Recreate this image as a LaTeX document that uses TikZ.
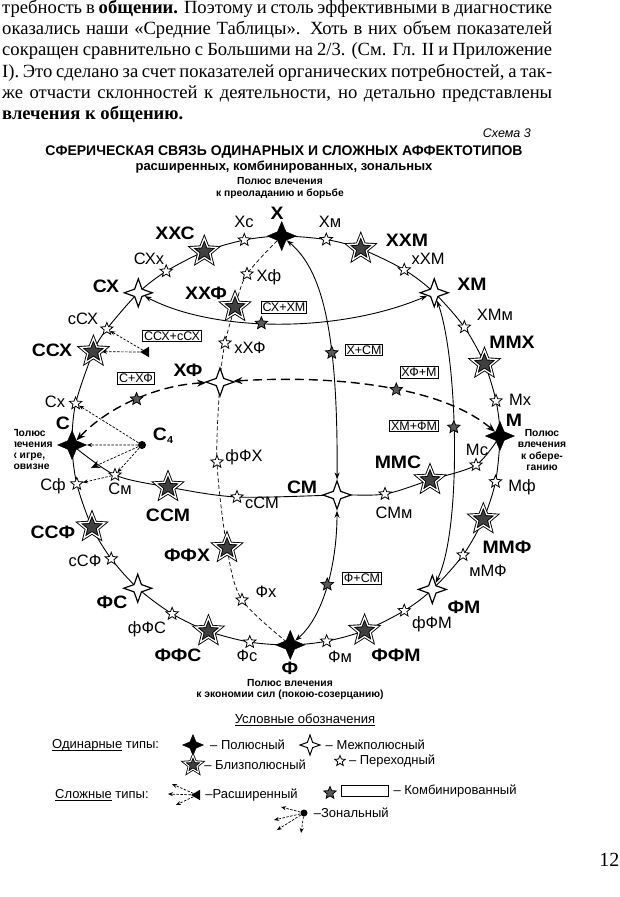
\documentclass[tikz,border=0pt]{standalone}
\usepackage{fontspec}
\setmainfont{Liberation Serif}
\setsansfont{Liberation Sans}
\newfontfamily\widesans[FakeStretch=1.08]{Liberation Sans}
\usetikzlibrary{shapes.geometric}
\usetikzlibrary{arrows.meta}
\usetikzlibrary{positioning}
\pgfdeclarelayer{background}
\pgfsetlayers{background,main}
\newcommand{\thickul}[1]{\setbox0\hbox{#1}\rlap{\rule[-2.8pt]{\wd0}{1.1pt}}\box0\relax}
\tikzstyle{polestar}=[star,star points=4,star point ratio=2.4,draw,fill=black,minimum size=29pt,inner sep=0pt]
\tikzstyle{midstar}=[star,star points=4,star point ratio=2.7,draw,line width=1.2pt,fill=white,minimum size=28pt,inner sep=0pt]
\tikzstyle{nearstar}=[star,star points=5,star point ratio=2.3,draw,solid,line width=0.9pt,double=white,double distance=1.3pt,fill=black!75,minimum size=27pt,inner sep=0pt]
\tikzstyle{smallstar}=[star,star points=5,star point ratio=2.3,draw,solid,line width=0.8pt,fill=white,minimum size=13pt,inner sep=0pt]
\tikzstyle{combstar}=[star,star points=5,star point ratio=2.2,draw,solid,line width=0.8pt,fill=black!65,minimum size=13pt,inner sep=0pt]
\tikzstyle{bigname}=[font=\widesans\bfseries\fontsize{18}{18}\selectfont,inner sep=0pt]
\tikzstyle{smallname}=[font=\sffamily\fontsize{16.5}{17}\selectfont,inner sep=0pt]
\tikzstyle{combbox}=[draw,line width=0.7pt,inner sep=1.3pt,font=\sffamily\fontsize{12.5}{13}\selectfont]
\tikzstyle{poletext}=[font=\sffamily\bfseries\fontsize{10.3}{11.2}\selectfont,align=center,inner sep=0pt]
\tikzstyle{legendtext}=[font=\sffamily\fontsize{13}{14}\selectfont,inner sep=0pt,anchor=west]
\tikzstyle{ringline}=[line width=0.9pt]
\tikzstyle{biarrow}=[line width=0.9pt,>={Stealth[length=7pt,width=5pt]},<->]
\tikzstyle{longdash}=[line width=1.4pt,dash pattern=on 9pt off 5pt,>={Stealth[length=9pt,width=7pt]},<->]
\tikzstyle{shortdash}=[line width=0.7pt,dash pattern=on 4pt off 2.5pt]
\tikzstyle{fanarrow}=[line width=0.7pt,dash pattern=on 2.5pt off 1.5pt,>={Stealth[length=5pt,width=4pt]},->]
\tikzstyle{zonedot}=[circle,fill=black,minimum size=8pt,inner sep=0pt]
\tikzstyle{fantip}=[isosceles triangle,isosceles triangle apex angle=60,fill=black,minimum size=9pt,inner sep=0pt]

\begin{document}
\begin{tikzpicture}[x=1pt,y=-1pt]
\useasboundingbox (0,0) rectangle (620,897);

%text of the page
\node[anchor=north west,inner sep=0pt,align=left,font=\fontsize{18.6}{21.2}\selectfont] (para) at (2,0) {%
\makebox[550pt][s]{требность в \textbf{общении.} Поэтому и столь эффективными в диагностике}\\
\makebox[550pt][s]{оказались наши «Средние Таблицы». Хоть в них объем показателей}\\
\makebox[550pt][s]{сокращен сравнительно с Большими на 2/3. (См. Гл. II и Приложение}\\
\makebox[550pt][s]{I). Это сделано за счет показателей органических потребностей, а так-}\\
\makebox[550pt][s]{же отчасти склонностей к деятельности, но детально представлены}\\
\textbf{влечения к общению.}};
\node[font=\sffamily\itshape\fontsize{12.5}{13}\selectfont,anchor=east,inner sep=0pt] (schema) at (531,133) {Схема 3};
\node[font=\sffamily\bfseries\fontsize{14}{15}\selectfont,inner sep=0pt] (title) at (284,152) {СФЕРИЧЕСКАЯ СВЯЗЬ ОДИНАРНЫХ И СЛОЖНЫХ АФФЕКТОТИПОВ};
\node[font=\sffamily\bfseries\fontsize{13}{14}\selectfont,inner sep=0pt] (subtitle) at (284,167.5) {расширенных, комбинированных, зональных};

%outer circle
\begin{scope}[shift={(286,440.5)},rotate=1.2]
  \foreach \ang/\name in {-90/X, 0/M, 90/F, 180/S}
    \node[polestar] (\name) at (\ang:214 and 204.5) {};
  \foreach \ang/\name in {-45/XM, 48/FM, 135/FS, 227.5/SX}
    \node[midstar] (\name) at (\ang:214 and 204.5) {};
  \foreach \ang/\name in {-68.4/XXM, -20.8/MMX, 23.9/MMF, 69.6/FFM, 112.4/FFS, 156.2/SSF, 207/SSX, 248.7/XXS}
    \node[nearstar] (\name) at (\ang:214 and 204.5) {};
  \foreach \ang/\name in {-78/Xm, -55.3/xXM, -32.4/XMm, -9.9/Mx, 12.9/Mf, 35.3/mMF, 57.6/fFM, 80.2/Fm, 100.9/Fs, 123.3/fFS, 145.9/sSF, 169/Sf, 191.7/Sx, 214.3/sSX, 237.1/SXx, 259.9/Xs}
    \node[smallstar] (\name) at (\ang:214 and 204.5) {};
\end{scope}

%inside
\foreach \pos/\name in {{(220,382)/XF}, {(337,495)/SM}}
  \node[midstar] (\name) at \pos {};
\foreach \pos/\name in {{(235,307)/XXF}, {(168,487)/SSM}, {(430,480)/MMS}, {(227,548)/FFX}}
  \node[nearstar] (\name) at \pos {};
\foreach \pos/\name in {{(247,274)/Xf}, {(225,343)/xXF}, {(217,462)/fFX}, {(242,600)/Fx}, {(115,475)/Sm}, {(237,497)/sSM}, {(385,494)/SMm}, {(476,465)/Ms}}
  \node[smallstar] (\name) at \pos {};
\node[zonedot] (C4) at (142,445) {};
\node[fantip,shape border rotate=170] (tSSX) at (146,352) {};
\coordinate (zS) at (91,468);

%names
\foreach \pos/\name/\text in {{(277,213)/lX/Х}, {(63,423)/lS/С}, {(514,420)/lM/М}, {(290,668)/lF/Ф},
    {(175,233)/lXXS/ХХС}, {(106,286)/lSX/СХ}, {(206,293)/lXXF/ХХФ}, {(52,350)/lSSX/ССХ}, {(188,370)/lXF/ХФ},
    {(407,240)/lXXM/ХХМ}, {(472,284)/lXM/ХМ}, {(512,342)/lMMX/ММХ}, {(398,462)/lMMS/ММС}, {(302,487)/lSM/СМ},
    {(168,515)/lSSM/ССМ}, {(53,532)/lSSF/ССФ}, {(187,555)/lFFX/ФФХ}, {(112,602)/lFS/ФС}, {(178,655)/lFFS/ФФС},
    {(396,655)/lFFM/ФФМ}, {(464,607)/lFM/ФМ}, {(507,547)/lMMF/ММФ}}
  \node[bigname] (\name) at \pos {\text};
\node[bigname] (lC4) at (163,436) {С\raisebox{-3pt}{\fontsize{10}{10}\selectfont 4}};
\foreach \pos/\name/\text in {{(244,222)/lXs/Хс}, {(330,222)/lXm/Хм}, {(149,259)/lSXx/СХх}, {(428,259)/lxXM/хХМ},
    {(269,277)/lXf/Хф}, {(83,319)/lsSX/сСХ}, {(495,315)/lXMm/ХМм}, {(250,348)/lxXF/хХФ}, {(55,402)/lSx/Сх},
    {(520,400)/lMx/Мх}, {(244,457)/lfFX/фФХ}, {(477,450)/lMs/Мс}, {(120,489)/lSm/См}, {(53,486)/lSf/Сф},
    {(522,487)/lMf/Мф}, {(262,503)/lsSM/сСМ}, {(394,513)/lSMm/СМм}, {(85,561)/lsSF/сСФ}, {(488,571)/lmMF/мМФ},
    {(266,592)/lFx/Фх}, {(147,629)/lfFS/фФС}, {(432,624)/lfFM/фФМ}, {(247,656)/lFs/Фс}, {(340,657)/lFm/Фм}}
  \node[smallname] (\name) at \pos {\text};
\foreach \pos/\name/\text in {{(284,307.5)/bSXXM/СХ+ХМ}, {(172,336)/bSSX/ССХ+сСХ}, {(136,378.5)/bSXF/С+ХФ},
    {(364,350)/bXSM/Х+СМ}, {(419,372.5)/bXFM/ХФ+М}, {(414,426)/bXMFM/ХМ+ФМ}, {(362,578.5)/bFSM/Ф+СМ}}
  \node[combbox] (\name) at \pos {\text};

%poles
\node[poletext] (tX) at (280,188) {Полюс влечения\\к преоладанию и борьбе};
\node[poletext] (tF) at (290,689.5) {Полюс влечения\\к экономии сил (покою-созерцанию)};
\node[poletext] (tM) at (542,450) {Полюс\\влечения\\к обере-\\ганию};
\begin{scope}
  \clip (14,420) rectangle (70,480);
  \node[poletext] (tS) at (28.5,449.5) {Полюс\\влечения\\к игре,\\новизне};
\end{scope}

%legend
\node[font=\sffamily\fontsize{13}{14}\selectfont,inner sep=0pt] (legtitle) at (305,720) {\thickul{Условные обозначения}};
\node[legendtext] (single) at (52,745) {\thickul{Одинарные} типы:};
\node[polestar,minimum size=21pt] (lgpole) at (193,745) {};
\node[legendtext,right=6pt of lgpole] (lgpoleT) {– Полюсный};
\node[midstar,minimum size=20pt,line width=1pt] (lgmid) at (310,745) {};
\node[legendtext,right=4pt of lgmid] (lgmidT) {– Межполюсный};
\node[nearstar,minimum size=19pt,line width=0.8pt,double distance=1pt] (lgnear) at (193,765) {};
\node[legendtext,right=5pt of lgnear] (lgnearT) {– Близполюсный};
\node[smallstar,minimum size=11pt] (lgsmall) at (340,761) {};
\node[legendtext,right=5pt of lgsmall] (lgsmallT) {– Переходный};
\node[legendtext] (complex) at (55,795) {\thickul{Сложные} типы:};
\node[fantip,shape border rotate=180] (lgtip) at (197,795) {};
\node[legendtext,right=5pt of lgtip] (lgtipT) {–Расширенный};
\node[combstar] (lgcomb) at (330,793) {};
\node[draw,line width=0.7pt,minimum width=47pt,minimum height=11pt,inner sep=0pt] (lgbox) at (364.5,791) {};
\node[legendtext,right=5pt of lgbox] (lgboxT) {– Комбинированный};
\node[zonedot,minimum size=7pt] (lgdot) at (304,813) {};
\node[legendtext,right=6pt of lgdot] (lgdotT) {–Зональный};
\foreach \pos/\name in {{(172,784)/lgt1}, {(168,794)/lgt2}, {(176,805)/lgt3}, {(281,807)/lgz1}, {(274,820)/lgz2}, {(277,830)/lgz3}, {(301,833)/lgz4}}
  \node[coordinate] (\name) at \pos {};
\node[font=\fontsize{20}{20}\selectfont,anchor=base east,inner sep=0pt] (pagenum) at (619.5,866) {12};

\begin{pgfonlayer}{background}
  \draw[ringline] plot[smooth cycle] coordinates {(X.center) (Xm.center) (XXM.center) (xXM.center) (XM.center) (XMm.center) (MMX.center) (Mx.center) (M.center) (Mf.center) (MMF.center) (mMF.center) (FM.center) (fFM.center) (FFM.center) (Fm.center) (F.center) (Fs.center) (FFS.center) (fFS.center) (FS.center) (sSF.center) (SSF.center) (Sf.center) (S.center) (Sx.center) (SSX.center) (sSX.center) (SX.center) (SXx.center) (XXS.center) (Xs.center)};
  \draw[ringline] plot[smooth] coordinates {(S.center) (Sm.center) (SSM.center) (sSM.center) (SM.center) (SMm.center) (MMS.center) (Ms.center) (M.center)};
  \draw[shortdash] plot[smooth] coordinates {(X.center) (Xf.center) (XXF.center) (xXF.center) (XF.center) (fFX.center) (FFX.center) (Fx.center) (F.center)};
  \draw[biarrow] (SX) .. controls (215,333) and (340,333) .. node[combstar,pos=.44] (cSXXM) {} (XM);
  \draw[biarrow] (X) .. controls (322,270) and (338,330) .. node[combstar,pos=.65] (cXSM) {} (SM);
  \draw[biarrow] (SM) .. controls (337,560) and (325,615) .. node[combstar,pos=.5] (cFSM) {} (F);
  \draw[biarrow] (XM) .. controls (458,360) and (462,530) .. node[combstar,pos=.45] (cXMFM) {} (FM);
  \draw[longdash] (S) .. controls (110,405) and (160,385) .. node[combstar,pos=.5] (cSXF) {} (XF);
  \draw[longdash] (XF) .. controls (330,375) and (440,385) .. node[combstar,pos=.56] (cXFM) {} (M);
  \foreach \dest in {sSX, SSX}
    \draw[fanarrow] (tSSX) -- (\dest);
  \foreach \dest in {Sx, S, Sm}
    \draw[fanarrow] (C4) -- (\dest);
  \draw[fanarrow,>={Stealth[length=9pt,width=8pt]}] (C4) -- (zS);
  \draw[fanarrow] (Sm) -- (Sf);
  \foreach \dest in {lgt1, lgt2, lgt3}
    \draw[fanarrow] (lgtip) -- (\dest);
  \foreach \dest in {lgz1, lgz2, lgz3, lgz4}
    \draw[fanarrow] (lgdot) -- (\dest);
\end{pgfonlayer}

\end{tikzpicture}
\end{document}
